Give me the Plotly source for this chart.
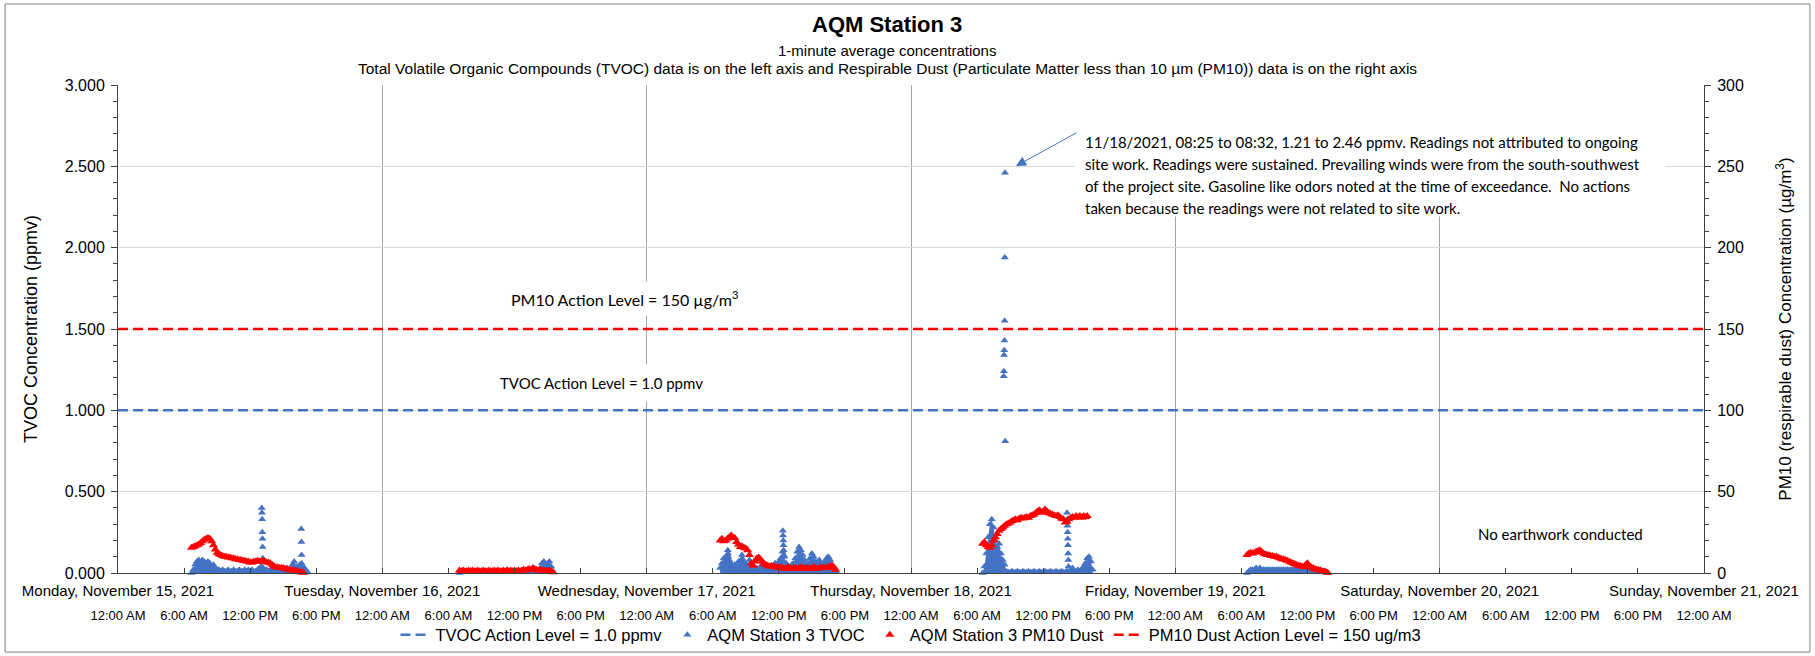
import pandas as pd
import plotly.graph_objects as go

# ---------------- DATA ----------------
X_RANGE = ["2021-11-15 00:00", "2021-11-21 00:00"]
DAY_TICKS = ["2021-11-15", "2021-11-16", "2021-11-17", "2021-11-18", "2021-11-19", "2021-11-20", "2021-11-21"]
DAY_LABELS = ["Monday, November 15, 2021", "Tuesday, November 16, 2021", "Wednesday, November 17, 2021",
              "Thursday, November 18, 2021", "Friday, November 19, 2021", "Saturday, November 20, 2021",
              "Sunday, November 21, 2021"]
TIME_LABELS = ["12:00 AM", "6:00 AM", "12:00 PM", "6:00 PM"]
TVOC_ACTION_LEVEL = 1.0
PM10_ACTION_LEVEL = 150
SAMPLE_STEP = "10min"

# TVOC (ppmv), one reading per 10 minutes per work session
MON_TVOC_START = "2021-11-15 06:40"
MON_TVOC = [0.00, 0.02, 0.05, 0.07, 0.08, 0.06, 0.08, 0.07, 0.05, 0.07, 0.06, 0.04, 0.05, 0.03, 0.02,
            0.02, 0.01, 0.02, 0.01, 0.01, 0.02, 0.01, 0.01, 0.02, 0.01, 0.01, 0.02,
            0.01, 0.01, 0.02, 0.01, 0.02, 0.01, 0.02, 0.01, 0.01, 0.02, 0.03, 0.04,
            0.03, 0.02, 0.02, 0.01, 0.02, 0.02, 0.01, 0.02, 0.01, 0.02, 0.02, 0.01,
            0.02, 0.03, 0.02, 0.02, 0.05, 0.07, 0.04, 0.03, 0.05, 0.06, 0.04, 0.02, 0.01]
TUE_TVOC_START = "2021-11-16 07:00"
TUE_TVOC = [0.00, 0.01, 0.01, 0.01, 0.005, 0.01, 0.01, 0.005, 0.01, 0.01, 0.01, 0.005, 0.01, 0.01,
            0.01, 0.005, 0.01, 0.01, 0.005, 0.01, 0.01, 0.01, 0.005, 0.01, 0.01, 0.01, 0.02, 0.01,
            0.01, 0.005, 0.01, 0.01, 0.01, 0.005, 0.01, 0.01, 0.01, 0.01, 0.005, 0.01, 0.01, 0.01,
            0.01, 0.01, 0.03, 0.06, 0.07, 0.05, 0.06, 0.07, 0.04, 0.01]
WED_TVOC_START = "2021-11-17 06:40"
WED_TVOC = [0.03, 0.06, 0.09, 0.07, 0.11, 0.08, 0.06, 0.03, 0.05, 0.04, 0.07, 0.06, 0.08, 0.05, 0.06,
            0.04, 0.08, 0.05, 0.03, 0.02, 0.03, 0.02, 0.04, 0.05, 0.03, 0.02, 0.03, 0.02, 0.03, 0.04,
            0.06, 0.05, 0.07, 0.09, 0.13, 0.10, 0.06, 0.04, 0.03, 0.05, 0.06, 0.09, 0.13, 0.16, 0.14,
            0.11, 0.08, 0.05, 0.06, 0.09, 0.12, 0.10, 0.07, 0.05, 0.08, 0.06, 0.05, 0.07, 0.09, 0.10,
            0.08, 0.05, 0.03, 0.01]
THU_TVOC_START = "2021-11-18 06:30"
THU_TVOC = [0.00, 0.04, 0.12, 0.22, 0.30, 0.33, 0.28, 0.20, 0.16, 0.18, 0.12, 0.08, 0.05,
            0.01, 0.005, 0.005, 0.01, 0.005, 0.005, 0.01, 0.005, 0.005, 0.01, 0.005, 0.005,
            0.01, 0.005, 0.005, 0.01, 0.005, 0.005, 0.01, 0.005, 0.005, 0.01, 0.005, 0.005,
            0.01, 0.005, 0.005, 0.01, 0.005, 0.005, 0.01, 0.005, 0.005, 0.01, 0.005,
            0.02, 0.03, 0.01, 0.01, 0.02, 0.01, 0.02, 0.04, 0.06, 0.09, 0.10, 0.07, 0.02]
FRI_TVOC_START = "2021-11-19 06:30"
FRI_TVOC = [0.00, 0.01, 0.02, 0.02, 0.02, 0.03, 0.02, 0.03, 0.02, 0.02, 0.02, 0.02, 0.02, 0.02, 0.02,
            0.02, 0.02, 0.02, 0.02, 0.02, 0.02, 0.02, 0.02, 0.02, 0.02, 0.02, 0.02, 0.02, 0.02, 0.02,
            0.02, 0.02, 0.02, 0.02, 0.02, 0.02, 0.02, 0.02, 0.02, 0.02, 0.02, 0.01, 0.01, 0.01, 0.00]

# Short TVOC spikes (1-minute readings)
TVOC_SPIKE_TIMES = ["2021-11-15 13:03", "2021-11-15 13:04", "2021-11-15 13:05", "2021-11-15 13:06",
                    "2021-11-15 13:07", "2021-11-15 13:08", "2021-11-15 13:09",
                    "2021-11-15 16:38", "2021-11-15 16:39", "2021-11-15 16:40", "2021-11-15 16:41",
                    "2021-11-17 07:22", "2021-11-17 07:23", "2021-11-17 07:24",
                    "2021-11-17 08:39", "2021-11-17 08:40", "2021-11-17 08:41",
                    "2021-11-17 12:22", "2021-11-17 12:23", "2021-11-17 12:24", "2021-11-17 12:25",
                    "2021-11-17 12:26", "2021-11-17 12:27",
                    "2021-11-18 08:25", "2021-11-18 08:26", "2021-11-18 08:27", "2021-11-18 08:28",
                    "2021-11-18 08:29", "2021-11-18 08:30", "2021-11-18 08:31", "2021-11-18 08:32",
                    "2021-11-18 08:33",
                    "2021-11-18 14:10", "2021-11-18 14:11", "2021-11-18 14:12", "2021-11-18 14:13",
                    "2021-11-18 14:14", "2021-11-18 14:15", "2021-11-18 14:16", "2021-11-18 14:17",
                    "2021-11-18 14:18"]
TVOC_SPIKE_VALUES = [0.40, 0.37, 0.33, 0.25, 0.21, 0.16, 0.09,
                     0.27, 0.19, 0.11, 0.04,
                     0.14, 0.12, 0.10,
                     0.11, 0.09, 0.07,
                     0.26, 0.23, 0.20, 0.17, 0.14, 0.11,
                     1.21, 1.24, 1.34, 1.37, 1.43, 1.55, 1.94, 2.46,
                     0.81,
                     0.37, 0.33, 0.29, 0.25, 0.21, 0.17, 0.12, 0.08, 0.04]

# PM10 (ug/m3), one reading per 10 minutes per work session
MON_PM10_START = "2021-11-15 06:40"
MON_PM10 = [15.5, 16, 16.5, 17, 17.5, 18.5, 19.5, 20.5, 21, 21.5, 21, 19.5, 17, 14.5, 12.5,
            11.5, 11, 10.5, 10, 10, 9.5, 9.5, 9, 9, 8.5, 8.5, 8, 8, 7.5, 7.5, 7, 7,
            6.5, 6.5, 7, 7, 7.5, 7, 7, 7.5, 7, 6.5, 6.5, 6, 5, 4, 3.5, 3.5, 3, 3, 3,
            2.5, 2.5, 2, 2, 1.5, 1.5, 1, 1, 0.5, 0.5, 0.2]
TUE_PM10_START = "2021-11-16 07:00"
TUE_PM10 = [1.5, 1, 1.5, 1, 1, 1.5, 1, 1.5, 1, 1, 1.5, 1, 1, 1.5, 1, 1, 1.5, 1, 1, 1.5, 1, 1.5,
            1, 1, 1.5, 1, 1.5, 1, 1.5, 1, 1.5, 1, 1.5, 1, 1.5, 2, 1.5, 2, 2.5, 2, 3, 2.5, 2, 1.5,
            2, 1.5, 1.5, 1, 1.5, 1.5, 1, 0.5]
WED_PM10_START = "2021-11-17 06:40"
WED_PM10 = [20, 21, 19.5, 20, 21, 22, 23, 22, 21.5, 19, 17.5, 16, 16.5, 15.5, 15, 14, 11, 6, 4.5,
            7, 9, 9.5, 8.5, 7, 5.5, 5, 4.5, 4, 4.5, 4, 3.5, 3.5, 3, 3.5, 3, 2.5, 3, 3.5, 3, 2.5,
            3, 3, 2.5, 3, 3.5, 3, 2.5, 3, 3, 2.5, 3, 3.5, 3, 2.5, 3, 3, 3.5, 3, 3, 3.5, 4, 4.5,
            3.5, 2]
THU_PM10_START = "2021-11-18 06:30"
THU_PM10 = [18, 19, 17, 16, 15.5, 17, 20, 22, 24, 26, 27, 28, 29, 30, 30.5, 31, 32, 32.5, 33,
            32.5, 33.5, 34, 33.5, 34, 34.5, 34, 35, 35.5, 36, 37, 38, 38.5, 37, 38, 39, 38, 37,
            36.5, 36, 35.5, 35, 35.5, 34.5, 33.5, 33, 31, 31.5, 33, 34, 34.5, 34, 35, 34.5, 35,
            34, 35, 34.5, 35]
FRI_PM10_START = "2021-11-19 06:30"
FRI_PM10 = [11, 12, 12.5, 12, 12.5, 13, 13.5, 14, 13, 12, 11.5, 11, 11, 10.5, 10.5, 10, 10, 9.5,
            9, 8.5, 8.5, 8, 7.5, 7, 6.5, 6, 5.5, 5, 4.5, 4.5, 4, 3.5, 5, 6, 4.5, 3.5, 3, 2.5, 2,
            2, 1.5, 1, 1, 0.5, 0.2]

ANNOTATION_TEXT = [
    "11/18/2021, 08:25 to 08:32, 1.21 to 2.46 ppmv. Readings not attributed to ongoing",
    "site work. Readings were sustained. Prevailing winds were from the south-southwest",
    "of the project site. Gasoline like odors noted at the time of exceedance.  No actions",
    "taken because the readings were not related to site work.",
]

# ---------------- BUILD ----------------
BLUE = "#4472C4"
RED = "#FF0000"
ARIAL = "Liberation Sans, Arial, sans-serif"
CALIBRI = "Lato, Carlito, Calibri, sans-serif"
AXIS_LINE = "#404040"

TVOC_SESSIONS = [(MON_TVOC_START, MON_TVOC), (TUE_TVOC_START, TUE_TVOC), (WED_TVOC_START, WED_TVOC),
                 (THU_TVOC_START, THU_TVOC), (FRI_TVOC_START, FRI_TVOC)]
PM10_SESSIONS = [(MON_PM10_START, MON_PM10), (TUE_PM10_START, TUE_PM10), (WED_PM10_START, WED_PM10),
                 (THU_PM10_START, THU_PM10), (FRI_PM10_START, FRI_PM10)]


def session_times(start, vals):
    return list(pd.date_range(start, periods=len(vals), freq=SAMPLE_STEP))


def sessions(pairs):
    xs, ys = [], []
    for start, vals in pairs:
        xs += session_times(start, vals) + [None]
        ys += list(vals) + [None]
    return xs, ys


tvoc_x, tvoc_y = sessions(TVOC_SESSIONS)
pm_x, pm_y = sessions(PM10_SESSIONS)

six_hour_ticks = pd.date_range(X_RANGE[0], X_RANGE[1], freq="6h")
six_hour_text = [TIME_LABELS[i % 4] for i in range(len(six_hour_ticks))]

fig = go.Figure()

fig.add_trace(go.Scatter(
    x=X_RANGE, y=[TVOC_ACTION_LEVEL, TVOC_ACTION_LEVEL], xaxis="x2", yaxis="y",
    mode="lines", name="TVOC Action Level = 1.0 ppmv",
    line=dict(color=BLUE, width=2.5, dash="10px,5px"), hoverinfo="skip"))

# dense 1-minute readings render as solid blue under the sampled points
for start, vals in TVOC_SESSIONS:
    fig.add_trace(go.Scatter(
        x=session_times(start, vals), y=vals, mode="none", fill="tozeroy", fillcolor=BLUE,
        showlegend=False, hoverinfo="skip", yaxis="y"))

fig.add_trace(go.Scatter(
    x=tvoc_x, y=tvoc_y, mode="markers", name="AQM Station 3 TVOC", legendgroup="tvoc",
    marker=dict(symbol="triangle-up", size=7, color=BLUE), cliponaxis=False, yaxis="y"))
fig.add_trace(go.Scatter(
    x=TVOC_SPIKE_TIMES, y=TVOC_SPIKE_VALUES, mode="markers", name="AQM Station 3 TVOC",
    legendgroup="tvoc", showlegend=False,
    marker=dict(symbol="triangle-up", size=7, color=BLUE), cliponaxis=False, yaxis="y"))

fig.add_trace(go.Scatter(
    x=pm_x, y=pm_y, mode="markers", name="AQM Station 3 PM10 Dust",
    marker=dict(symbol="triangle-up", size=8, color=RED), cliponaxis=False, yaxis="y2"))

fig.add_trace(go.Scatter(
    x=X_RANGE, y=[PM10_ACTION_LEVEL, PM10_ACTION_LEVEL], mode="lines", yaxis="y2",
    name="PM10 Dust Action Level = 150 ug/m3",
    line=dict(color=RED, width=2.5, dash="10px,5px"), hoverinfo="skip"))

fig.update_layout(
    width=1815, height=656, autosize=False,
    margin=dict(l=118, r=111, t=85, b=83, autoexpand=False),
    paper_bgcolor="white", plot_bgcolor="white",
    font=dict(family=ARIAL, size=14, color="black"),
    showlegend=True,
    legend=dict(orientation="h", x=0.5, xanchor="center", y=-0.127, yanchor="middle",
                font=dict(family=ARIAL, size=16.5, color="black"), bgcolor="rgba(0,0,0,0)",
                itemwidth=30),
    xaxis=dict(
        type="date", range=X_RANGE, tickmode="array", tickvals=DAY_TICKS, ticktext=DAY_LABELS,
        ticks="", showgrid=True, gridcolor="#a6a6a6", gridwidth=1, zeroline=False,
        showline=True, linecolor=AXIS_LINE, linewidth=1, tickfont=dict(family=ARIAL, size=15),
        ticklabelstandoff=4, automargin=False),
    xaxis2=dict(
        type="date", range=X_RANGE, overlaying="x", anchor="y", side="bottom",
        tickmode="array", tickvals=list(six_hour_ticks), ticktext=six_hour_text,
        ticks="inside", ticklen=5, tickcolor=AXIS_LINE, showgrid=False, zeroline=False,
        showline=False, tickfont=dict(family=ARIAL, size=13), ticklabelstandoff=33,
        automargin=False),
    yaxis=dict(
        range=[0, 3], dtick=0.5, tickformat=".3f", showgrid=True, gridcolor="#d9d9d9",
        zeroline=False, showline=True, linecolor=AXIS_LINE, linewidth=1,
        ticks="outside", ticklen=6, tickcolor=AXIS_LINE,
        minor=dict(dtick=0.1, ticks="outside", ticklen=4, tickcolor=AXIS_LINE, showgrid=False),
        tickfont=dict(family=ARIAL, size=16), ticklabelstandoff=3, automargin=False,
        title=dict(text="TVOC Concentration (ppmv)", font=dict(family=ARIAL, size=18), standoff=22)),
    yaxis2=dict(
        range=[0, 300], dtick=50, overlaying="y", side="right", showgrid=False, zeroline=False,
        showline=True, linecolor=AXIS_LINE, linewidth=1, ticks="outside", ticklen=6,
        tickcolor=AXIS_LINE, automargin=False,
        minor=dict(dtick=10, ticks="outside", ticklen=4, tickcolor=AXIS_LINE, showgrid=False),
        tickfont=dict(family=ARIAL, size=16), ticklabelstandoff=3,
        title=dict(text="PM10 (respirable dust) Concentration (µg/m<sup>3</sup>)",
                   font=dict(family=ARIAL, size=17), standoff=36)),
)

annotations = [
    # white box behind the note (hides the day gridlines there)
    dict(text=" ", x=0.7894, y=0.8658, width=590, height=131, bgcolor="white", borderpad=0),
    dict(text="<b>AQM Station 3</b>", x=0.4849, y=1.123, font=dict(family=ARIAL, size=22)),
    dict(text="1-minute average concentrations", x=0.4849, y=1.0717, font=dict(family=ARIAL, size=15)),
    dict(text="Total Volatile Organic Compounds (TVOC) data is on the left axis and Respirable Dust "
              "(Particulate Matter less than 10 µm (PM10)) data is on the right axis",
         x=0.4849, y=1.0348, font=dict(family=ARIAL, size=15.5)),
    dict(text="PM10 Action Level = 150 µg/m<sup>3</sup>", x=0.3197, y=0.5615,
         font=dict(family=CALIBRI, size=16), bgcolor="white", borderpad=6),
    dict(text="TVOC Action Level = 1.0 ppmv", x=0.305, y=0.389,
         font=dict(family=CALIBRI, size=15), bgcolor="white", borderpad=9),
    dict(text="No earthwork conducted", x=0.9098, y=0.0799, font=dict(family=CALIBRI, size=15)),
]
line_y = [0.8832, 0.8381, 0.7930, 0.7480]
for txt, yy in zip(ANNOTATION_TEXT, line_y):
    annotations.append(dict(text=txt, x=0.6084, y=yy, xanchor="left",
                            font=dict(family=CALIBRI, size=15)))
for a in annotations:
    a.setdefault("xref", "paper")
    a.setdefault("yref", "paper")
    a.setdefault("showarrow", False)
    a.setdefault("xanchor", "center")
    a.setdefault("yanchor", "middle")
# arrow pointing at the peak reading
annotations.append(dict(text="", x=0.5662, y=0.834, xref="paper", yref="paper", showarrow=True,
                        ax=62, ay=-34, arrowhead=2, arrowsize=2, arrowwidth=1, arrowcolor=BLUE))
fig.update_layout(annotations=annotations)

fig.update_layout(shapes=[
    dict(type="rect", xref="paper", yref="paper", x0=-0.0712, x1=1.0668, y0=-0.162, y1=1.166,
         line=dict(color="#7f7f7f", width=1), fillcolor="rgba(0,0,0,0)", layer="above"),
])

fig.write_html("out.html", config={"displayModeBar": False},
               post_script="document.body.style.margin='0';")
